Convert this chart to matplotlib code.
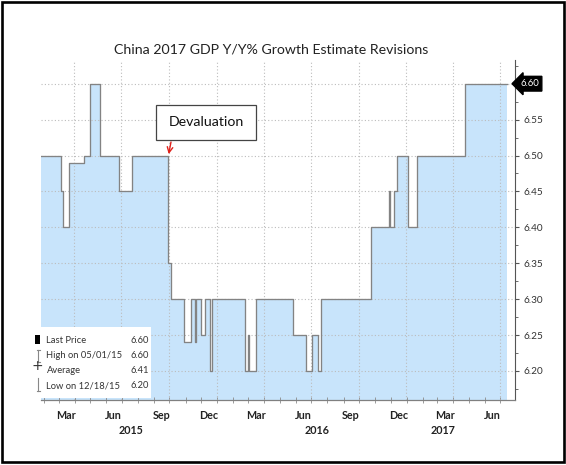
import matplotlib
matplotlib.use('Agg')
import matplotlib.pyplot as plt
import matplotlib.dates as mdates
import matplotlib.transforms as mtransforms
from matplotlib import font_manager
from matplotlib.patches import Rectangle
from matplotlib.lines import Line2D
from matplotlib.ticker import MultipleLocator
import pandas as pd

# ---------------- data ----------------
title = 'China 2017 GDP Y/Y% Growth Estimate Revisions'

change_dates = [
    '2015-01-26', '2015-03-06', '2015-03-10', '2015-03-22', '2015-04-19',
    '2015-05-01', '2015-05-19', '2015-06-26', '2015-07-20', '2015-09-29',
    '2015-10-04', '2015-10-30', '2015-11-12', '2015-11-20', '2015-11-22',
    '2015-12-01', '2015-12-09', '2015-12-18', '2015-12-22', '2016-02-23',
    '2016-03-01', '2016-03-03', '2016-03-16', '2016-05-27', '2016-06-21',
    '2016-07-02', '2016-07-14', '2016-07-20', '2016-10-24', '2016-11-28',
    '2016-11-30', '2016-12-08', '2016-12-14', '2017-01-03', '2017-01-20',
    '2017-04-24',
]
estimates = [
    6.50, 6.45, 6.40, 6.49, 6.50,
    6.60, 6.50, 6.45, 6.50, 6.35,
    6.30, 6.24, 6.30, 6.24, 6.30,
    6.25, 6.30, 6.20, 6.30, 6.20,
    6.25, 6.20, 6.30, 6.25, 6.20,
    6.25, 6.20, 6.30, 6.40, 6.45,
    6.40, 6.45, 6.50, 6.40, 6.50,
    6.60,
]
series_end = '2017-07-13'

month_label_dates = ['2015-03-16', '2015-06-15', '2015-09-15', '2015-12-16',
                     '2016-03-16', '2016-06-15', '2016-09-15', '2016-12-16',
                     '2017-03-16', '2017-06-15']
month_labels = ['Mar', 'Jun', 'Sep', 'Dec', 'Mar', 'Jun', 'Sep', 'Dec', 'Mar', 'Jun']
year_label_dates = ['2015-07-19', '2016-07-12', '2017-03-12']
year_labels = ['2015', '2016', '2017']

y_ticks = [6.20, 6.25, 6.30, 6.35, 6.40, 6.45, 6.50, 6.55, 6.60]
y_tick_labels = ['6.20', '6.25', '6.30', '6.35', '6.40', '6.45', '6.50', '6.55', '']

legend_names = ['Last Price', 'High on 05/01/15', 'Average', 'Low on 12/18/15']
legend_values = ['6.60', '6.60', '6.41', '6.20']
last_value = 6.60

annotation_text = 'Devaluation'
annotation_date = '2015-09-29'
annotation_value = 6.50

# ---------------- fonts ----------------
def has_font(name):
    try:
        font_manager.findfont(font_manager.FontProperties(family=name),
                              fallback_to_default=False)
        return True
    except Exception:
        return False

if has_font('Liberation Sans Narrow'):
    FONT, S = 'Liberation Sans Narrow', 1.0
else:
    FONT, S = 'Lato', 0.86
plt.rcParams['font.family'] = [FONT, 'DejaVu Sans']

W, H = 566, 465
def fx(x):
    return x / W
def fy(y):
    return 1 - y / H

fig = plt.figure(figsize=(W / 100, H / 100), dpi=100)
fig.patch.set_facecolor('white')
ax = fig.add_axes([fx(41), fy(400), (515 - 41) / W, (400 - 60) / H])
ax.set_facecolor('white')

dates = pd.to_datetime(change_dates + [series_end])
vals = estimates + [estimates[-1]]

ax.fill_between(dates, vals, 6.0, step='post', color='#c8e4fb', lw=0, zorder=1)
ax.step(dates, vals, where='post', color='#838383', lw=0.95, zorder=4)

ax.set_xlim(pd.Timestamp('2015-01-26'), pd.Timestamp('2017-07-29'))
ax.set_ylim(6.1596, 6.633)

# grid
for y in y_ticks:
    ax.axhline(y, color='#bcbcbc', ls=(0, (1, 2)), lw=0.8, zorder=2)
quarter_ends = pd.date_range('2015-04-01', '2017-07-01', freq='QS') - pd.Timedelta(days=1)
for d in quarter_ends:
    ax.axvline(d, color='#bcbcbc', ls=(0, (1, 2)), lw=0.8, zorder=2)

# spines
for s in ['left', 'top']:
    ax.spines[s].set_visible(False)
ax.spines['right'].set_color('#555555')
ax.spines['right'].set_linewidth(0.8)
ax.spines['bottom'].set_color('#808080')
ax.spines['bottom'].set_linewidth(0.9)

# y axis on right
ax.yaxis.tick_right()
ax.set_yticks(y_ticks)
ax.set_yticklabels(y_tick_labels)
ax.yaxis.set_minor_locator(MultipleLocator(0.025))
ax.tick_params(axis='y', which='major', length=3, color='#555555',
               labelsize=8.4 * S, labelcolor='#333333', pad=3)
ax.tick_params(axis='y', which='minor', length=2, color='#555555')

# x axis
ax.set_xticks(pd.to_datetime(month_label_dates))
ax.set_xticklabels(month_labels, fontweight='bold')
ax.tick_params(axis='x', which='major', length=0, pad=7,
               labelsize=9 * S, labelcolor='#222222')
ax.xaxis.set_minor_locator(mdates.MonthLocator())
ax.tick_params(axis='x', which='minor', length=4, direction='inout', color='#8a8a8a')

trans = mtransforms.blended_transform_factory(ax.transData, ax.transAxes)
for d, lab in zip(year_label_dates, year_labels):
    ax.text(pd.Timestamp(d), -0.091, lab, transform=trans, ha='center', va='center',
            fontsize=9 * S, fontweight='bold', color='#222222')

# title
fig.text(fx(271), fy(53), title, ha='center', va='baseline',
         fontsize=11.8 * S, color='#222222')

# devaluation annotation
fig.add_artist(Rectangle((fx(156), fy(140)), (256 - 156) / W, (140 - 105) / H,
                         transform=fig.transFigure, facecolor='white',
                         edgecolor='#444444', lw=0.9, zorder=5))
fig.text(fx(206), fy(122.5), annotation_text, ha='center', va='center',
         fontsize=11.8 * S, color='#111111', zorder=6)
ax.annotate('', xy=(pd.Timestamp(annotation_date), annotation_value), xycoords='data',
            xytext=(171, H - 142), textcoords='figure pixels',
            arrowprops=dict(arrowstyle='->', color='#e0201a', lw=1.0,
                            shrinkA=0, shrinkB=1), zorder=6)

# last value marker
ax.annotate(f'{last_value:.2f}', xy=(1.0, last_value), xycoords=('axes fraction', 'data'),
            xytext=(10.5, 0), textcoords='offset points', ha='center', va='center',
            fontsize=8 * S, color='white', annotation_clip=False,
            bbox=dict(boxstyle='larrow,pad=0.3', fc='black', ec='black'), zorder=7)

# legend box
fig.add_artist(Rectangle((fx(34), fy(398)), (151 - 34) / W, (398 - 327) / H,
                         transform=fig.transFigure, facecolor='white',
                         edgecolor='none', zorder=5))
row_y = [340, 355.5, 370.7, 386]
for yy, name, val in zip(row_y, legend_names, legend_values):
    fig.text(fx(46.5), fy(yy), name, ha='left', va='center', fontsize=7.9 * S,
             color='#333333', zorder=6)
    fig.text(fx(149), fy(yy), val, ha='right', va='center', fontsize=7.9 * S,
             color='#333333', zorder=6)
# symbols
fig.add_artist(Rectangle((fx(35), fy(344)), 5 / W, 9 / H, transform=fig.transFigure,
                         facecolor='black', edgecolor='none', zorder=6))
hi = [([38, 38], [349.5, 362]), ([36.5, 39.5], [349.5, 349.5]), ([36.5, 39.5], [362, 362])]
lo = [([38, 38], [378, 391]), ([36.5, 39.5], [391, 391])]
for xs, ys in hi + lo:
    fig.add_artist(Line2D([fx(v) for v in xs], [fy(v) for v in ys],
                          transform=fig.transFigure, color='#888888', lw=0.8, zorder=6))
fig.text(fx(37), fy(365.5), '+', ha='center', va='center', fontsize=10,
         family='DejaVu Sans', color='#333333', zorder=6)

# outer frame
fig.add_artist(Rectangle((fx(1.5), fy(462)), (564 - 1.5) / W, (462 - 2) / H,
                         transform=fig.transFigure, fill=False, edgecolor='black',
                         lw=1.9, zorder=10))

fig.savefig('out.png', dpi=100, facecolor='white')
